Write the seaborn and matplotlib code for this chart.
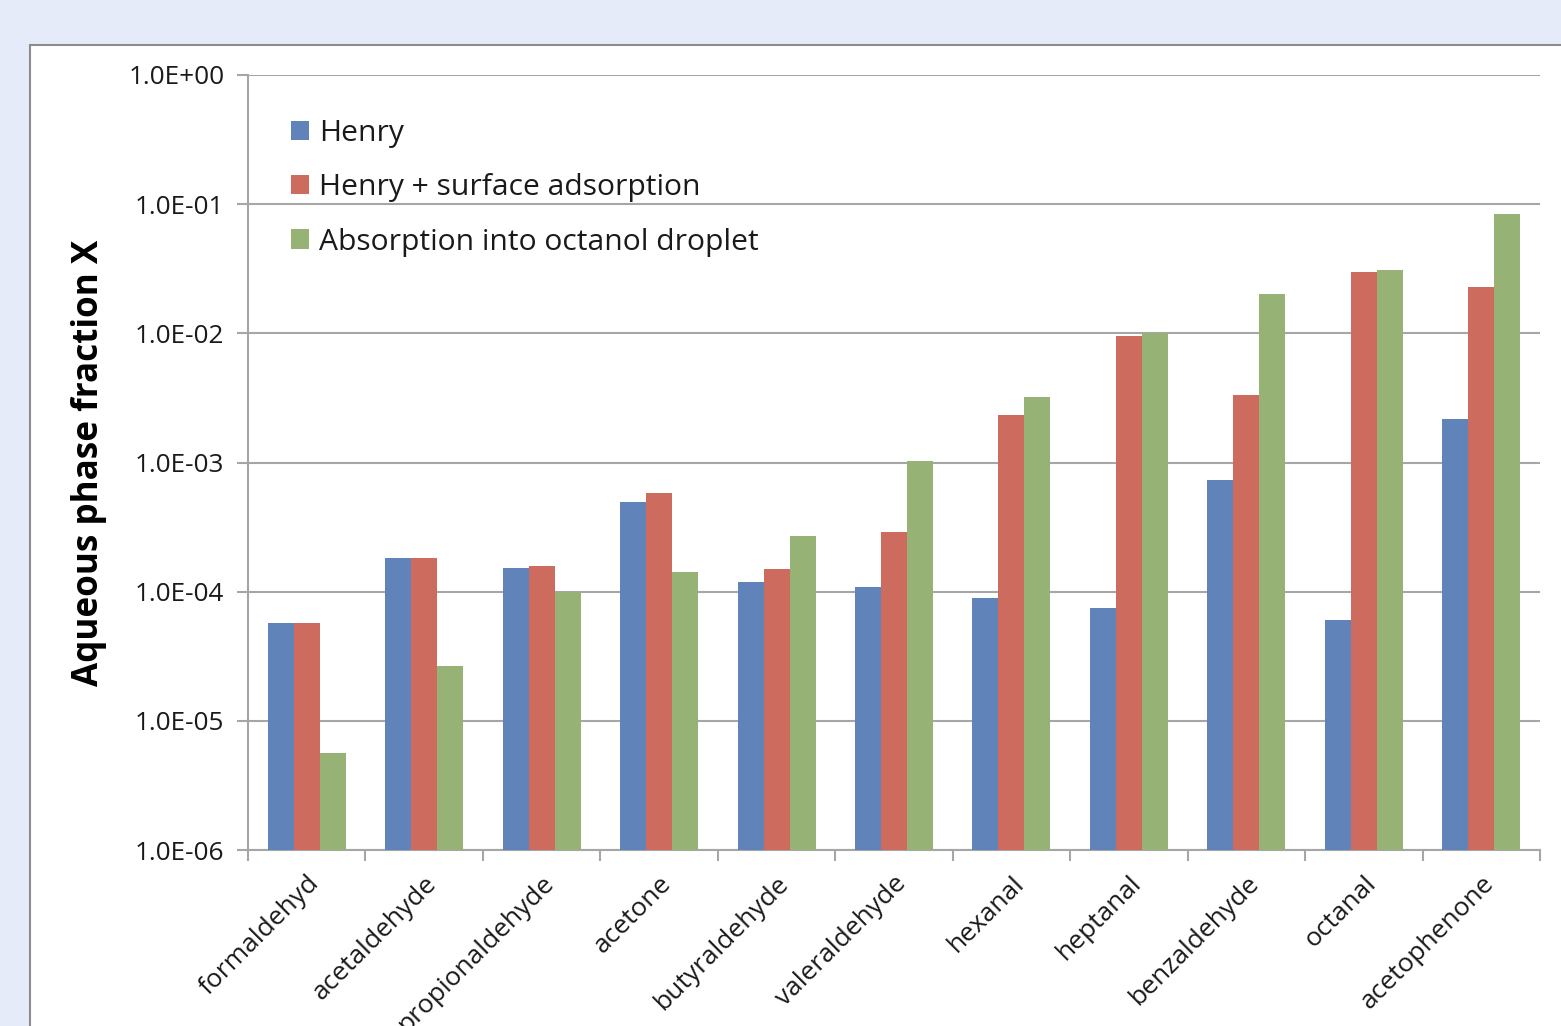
import numpy as np
import pandas as pd
import matplotlib
matplotlib.use("Agg")
import matplotlib.pyplot as plt
import matplotlib.patches as mpatches
from matplotlib.ticker import FixedLocator, FuncFormatter, NullLocator
import seaborn as sns

compounds = ["formaldehyd", "acetaldehyde", "propionaldehyde", "acetone",
             "butyraldehyde", "valeraldehyde", "hexanal", "heptanal",
             "benzaldehyde", "octanal", "acetophenone"]
henry = [5.74e-5, 1.83e-4, 1.53e-4, 4.95e-4, 1.19e-4, 1.09e-4,
         8.95e-5, 7.49e-5, 7.33e-4, 6.05e-5, 2.17e-3]
henry_surface = [5.74e-5, 1.83e-4, 1.58e-4, 5.82e-4, 1.50e-4, 2.90e-4,
                 2.33e-3, 9.55e-3, 3.33e-3, 2.99e-2, 2.29e-2]
octanol = [5.65e-6, 2.67e-5, 1.00e-4, 1.42e-4, 2.70e-4, 1.03e-3,
           3.22e-3, 1.00e-2, 2.02e-2, 3.10e-2, 8.40e-2]
series_names = ["Henry", "Henry + surface adsorption", "Absorption into octanol droplet"]
colors = ["#6083BA", "#CC6B5E", "#96B274"]
y_ticks = [1e-6, 1e-5, 1e-4, 1e-3, 1e-2, 1e-1, 1e0]

df = pd.DataFrame({
    "compound": compounds * 3,
    "value": henry + henry_surface + octanol,
    "series": [series_names[0]] * len(compounds)
              + [series_names[1]] * len(compounds)
              + [series_names[2]] * len(compounds),
})

sns.set_theme(style="white")
plt.rcParams["font.family"] = ["Open Sans", "DejaVu Sans"]

W, H = 1561, 1026
fig = plt.figure(figsize=(W / 100, H / 100), dpi=100, facecolor="#E6EBFA")

# white chart panel with grey frame (behind the plot axes)
panel = mpatches.Rectangle((30 / W, -0.05), 1.2, 1 - 45 / H + 0.05,
                           transform=fig.transFigure, facecolor="white",
                           edgecolor="#8C8C8C", linewidth=1.5, zorder=-10)
fig.patches.append(panel)

ax = fig.add_axes([248 / W, 1 - 850 / H, (1540 - 248) / W, (850 - 75) / H])
ax.set_zorder(1)
ax.set_facecolor("none")

sns.barplot(data=df, x="compound", y="value", hue="series",
            hue_order=series_names, palette=colors, order=compounds,
            width=0.664, linewidth=0, saturation=1, ax=ax, zorder=3)

ax.set_yscale("log")
ax.set_ylim(1e-6, 1)
ax.set_xlim(-0.5, len(compounds) - 0.5)
ax.yaxis.set_major_locator(FixedLocator(y_ticks))
ax.yaxis.set_minor_locator(NullLocator())
ax.yaxis.set_major_formatter(FuncFormatter(lambda v, p: f"{v:.1E}"))
ax.grid(axis="y", color="#A6A6A6", linewidth=1.5, zorder=0)
ax.set_axisbelow(True)

for side in ["top", "right"]:
    ax.spines[side].set_visible(False)
for side in ["left", "bottom"]:
    ax.spines[side].set_color("#A6A6A6")
    ax.spines[side].set_linewidth(1.5)

ax.tick_params(axis="y", which="major", left=True, length=8, width=1.5,
               color="#A6A6A6", labelsize=18.8, labelcolor="#1A1A1A", pad=9)
ax.set_xticks(range(len(compounds)))
ax.set_xticklabels(compounds, rotation=45, ha="right", rotation_mode="anchor")
ax.set_xticks(np.arange(-0.5, len(compounds), 1), minor=True)
ax.tick_params(axis="x", which="minor", bottom=True, length=8, width=1.5,
               color="#A6A6A6")
ax.tick_params(axis="x", which="major", bottom=False, length=0,
               labelsize=19, labelcolor="#1A1A1A", pad=15)

ax.set_xlabel("")
ax.set_ylabel("Aqueous phase fraction X", fontsize=25.2, fontweight="bold",
              color="black", labelpad=15)

leg = ax.legend(loc="upper left", bbox_to_anchor=(0.033, 0.943), frameon=False,
                fontsize=21.6, handlelength=0.6, handleheight=0.6,
                handletextpad=0.35, labelspacing=0.84, borderpad=0,
                borderaxespad=0)
for t in leg.get_texts():
    t.set_color("#1A1A1A")

fig.savefig("out.png", dpi=100, facecolor=fig.get_facecolor())
